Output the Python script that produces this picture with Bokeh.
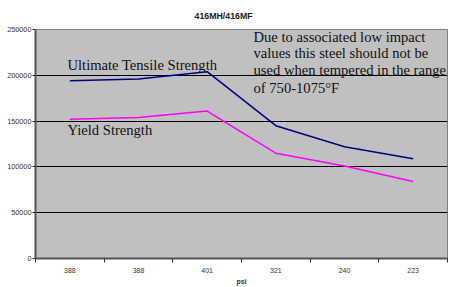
from bokeh.plotting import figure
from bokeh.models import Range1d, FixedTicker, BasicTickFormatter, Label
from bokeh.embed import file_html
from bokeh.resources import INLINE

categories = ["388", "388", "401", "321", "240", "223"]
ultimate = [194000, 196000, 204000, 145000, 122000, 109000]
yield_strength = [152000, 154000, 161000, 115000, 101000, 84000]
y_ticks = [0, 50000, 100000, 150000, 200000, 250000]

xs = list(range(len(categories)))

p = figure(width=451, height=287, output_backend="svg", toolbar_location=None,
           x_range=Range1d(-0.5, len(categories) - 0.5), y_range=Range1d(0, 250000),
           min_border_left=35, min_border_right=4, min_border_top=29, min_border_bottom=28,
           title="416MH/416MF")

p.title.text_font = "Liberation Sans"
p.title.text_font_size = "8.8px"
p.title.text_font_style = "bold"
p.title.text_color = "#222222"
p.title.align = "left"
p.title.offset = 159
p.title.standoff = 17

p.background_fill_color = "#C0C0C0"
p.border_fill_color = "white"
p.outline_line_color = "#808080"
p.outline_line_width = 1

# axes
p.xaxis.ticker = FixedTicker(ticks=xs, minor_ticks=[i - 0.5 for i in range(len(categories) + 1)])
p.xaxis.major_label_overrides = {i: c for i, c in enumerate(categories)}
p.xaxis.major_tick_out = 0
p.xaxis.major_tick_in = 0
p.xaxis.minor_tick_out = 4
p.xaxis.minor_tick_in = 0
p.xaxis.minor_tick_line_color = "#333333"
p.xaxis.axis_line_color = "#555555"
p.xaxis.axis_line_width = 2
p.xaxis.major_label_text_font = "Liberation Sans"
p.xaxis.major_label_text_font_size = "7px"
p.xaxis.major_label_text_color = "#333333"
p.xaxis.major_label_standoff = 5
p.xaxis.axis_label = "psi"
p.xaxis.axis_label_text_font = "Liberation Sans"
p.xaxis.axis_label_text_font_size = "7px"
p.xaxis.axis_label_text_font_style = "bold"
p.xaxis.axis_label_text_color = "#333333"
p.xaxis.axis_label_standoff = 2

p.yaxis.ticker = FixedTicker(ticks=y_ticks)
p.yaxis.formatter = BasicTickFormatter(use_scientific=False)
p.yaxis.major_tick_out = 3
p.yaxis.major_tick_in = 0
p.yaxis.minor_tick_out = 0
p.yaxis.minor_tick_in = 0
p.yaxis.major_tick_line_color = "#333333"
p.yaxis.axis_line_color = "#555555"
p.yaxis.axis_line_width = 2
p.yaxis.major_label_text_font = "Liberation Sans"
p.yaxis.major_label_text_font_size = "7.3px"
p.yaxis.major_label_text_color = "#333333"
p.yaxis.major_label_standoff = 1

p.xgrid.grid_line_color = None
p.ygrid.ticker = FixedTicker(ticks=y_ticks)
p.ygrid.grid_line_color = "black"
p.ygrid.grid_line_width = 1

# series
p.line(xs, ultimate, line_color="#000080", line_width=1.5)
p.line(xs, yield_strength, line_color="#FF00FF", line_width=1.5)

serif = "Liberation Serif"
fs = "14.6px"

p.add_layout(Label(x=-0.034, y=210700, text="Ultimate Tensile Strength",
                   text_font=serif, text_font_size=fs, text_color="#111111",
                   text_baseline="alphabetic"))
p.add_layout(Label(x=-0.034, y=140800, text="Yield Strength",
                   text_font=serif, text_font_size=fs, text_color="#111111",
                   text_baseline="alphabetic"))

note_lines = ["Due to associated low impact",
              "values this steel should not be",
              "used when tempered in the range",
              "of 750-1075\u00b0F"]
note_y = [242200, 223900, 205400, 186400]
for t, yy in zip(note_lines, note_y):
    p.add_layout(Label(x=2.675, y=yy, text=t, text_font=serif, text_font_size=fs,
                       text_color="#111111", text_baseline="alphabetic"))

open("out.html", "w").write(file_html(p, INLINE))
